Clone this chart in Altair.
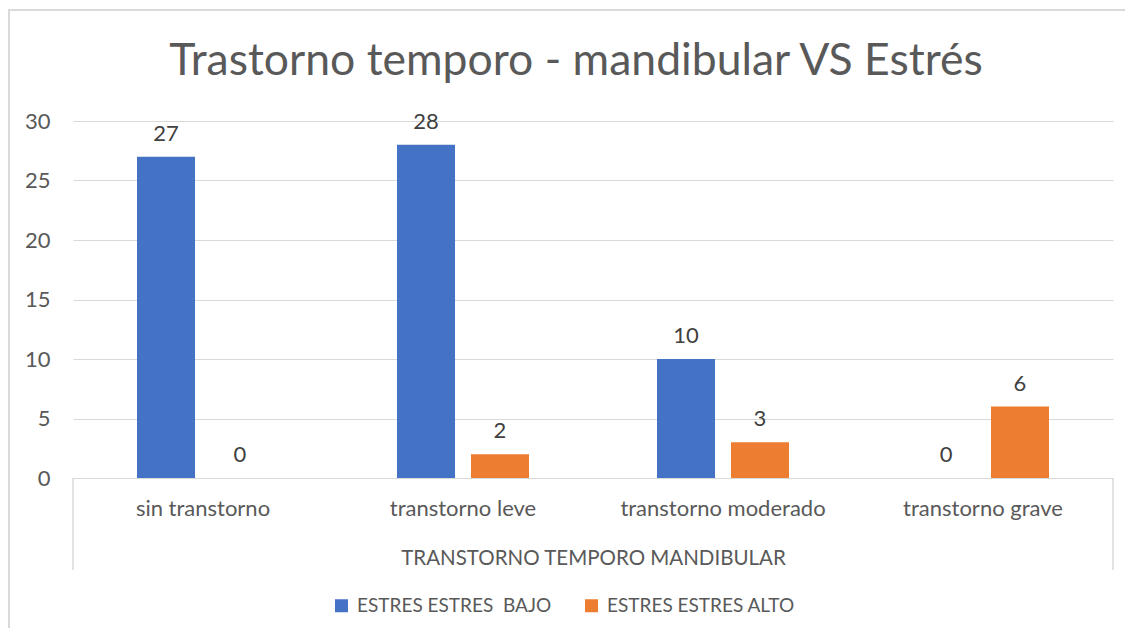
import altair as alt
import pandas as pd

categories = ["sin transtorno", "transtorno leve", "transtorno moderado", "transtorno grave"]
series = ["ESTRES ESTRES \u00a0BAJO", "ESTRES ESTRES ALTO"]
bajo = [27, 28, 10, 0]
alto = [0, 2, 3, 6]
colors = ["#4472C4", "#ED7D31"]
y_ticks = [0, 5, 10, 15, 20, 25, 30]

rows = []
for c, b, a in zip(categories, bajo, alto):
    rows.append({"categoria": c, "serie": series[0], "valor": b})
    rows.append({"categoria": c, "serie": series[1], "valor": a})
df = pd.DataFrame(rows)

FONT = "Lato"
GRAY = "#595959"
LINE = "#d9d9d9"

x = alt.X(
    "categoria:N",
    sort=categories,
    scale=alt.Scale(paddingInner=0, paddingOuter=0),
    axis=alt.Axis(
        title="TRANSTORNO TEMPORO MANDIBULAR",
        labelAngle=0,
        labelPadding=20,
        labelFontSize=22,
        labelFont=FONT,
        labelColor=GRAY,
        labelLimit=400,
        ticks=False,
        domainColor=LINE,
        domainWidth=1,
        grid=False,
        titleFont=FONT,
        titleFontSize=20.5,
        titleFontWeight="normal",
        titleColor=GRAY,
        titleBaseline="alphabetic",
        titleY=86,
    ),
)
xoff = alt.XOffset(
    "serie:N",
    sort=series,
    scale=alt.Scale(paddingInner=0.216, paddingOuter=0.865),
)
y = alt.Y(
    "valor:Q",
    scale=alt.Scale(domain=[0, 30], nice=False),
    axis=alt.Axis(
        values=y_ticks,
        title=None,
        ticks=False,
        domain=False,
        labelPadding=23,
        labelFontSize=22,
        labelFont=FONT,
        labelColor=GRAY,
        gridColor=LINE,
        gridWidth=1,
    ),
)

bars = alt.Chart(df).mark_bar().encode(
    x=x,
    xOffset=xoff,
    y=y,
    color=alt.Color(
        "serie:N",
        sort=series,
        scale=alt.Scale(domain=series, range=colors),
        legend=alt.Legend(
            title=None,
            orient="none",
            legendX=259,
            legendY=475,
            direction="horizontal",
            columns=2,
            symbolType="square",
            symbolSize=169,
            symbolStrokeWidth=0,
            labelFontSize=19,
            labelFont=FONT,
            labelColor=GRAY,
            labelLimit=400,
            columnPadding=30,
            labelOffset=6,
            padding=0,
        ),
    ),
)

labels = alt.Chart(df).mark_text(
    dy=-16, baseline="alphabetic", fontSize=22, font=FONT, color="#404040"
).encode(x=x, xOffset=xoff, y=y, text="valor:Q")

decor = alt.Chart(alt.Data(values=[{}]))
border = decor.mark_rect(fillOpacity=0, stroke=LINE, strokeWidth=2).encode(
    x=alt.value(-64), x2=alt.value(1100), y=alt.value(-111), y2=alt.value(600)
)
edge_left = decor.mark_rule(color=LINE, strokeWidth=1.5).encode(
    x=alt.value(0), y=alt.value(357), y2=alt.value(449)
)
edge_right = decor.mark_rule(color=LINE, strokeWidth=1.5).encode(
    x=alt.value(1040), y=alt.value(357), y2=alt.value(449)
)

chart = (
    alt.layer(border, bars, labels, edge_left, edge_right)
    .properties(
        width=1040,
        height=357,
        title=alt.Title(
            "Trastorno temporo - mandibular VS Estrés",
            font=FONT,
            fontSize=44.5,
            fontWeight="normal",
            color=GRAY,
            anchor="middle",
            baseline="alphabetic",
            offset=-110,
            dx=-17,
        ),
        autosize=alt.AutoSizeParams(type="none"),
        padding={"left": 65, "top": 113, "right": 12, "bottom": 150},
    )
    .configure_view(stroke=None)
)

chart.save("out.html", embed_options={"renderer": "svg", "actions": False})
